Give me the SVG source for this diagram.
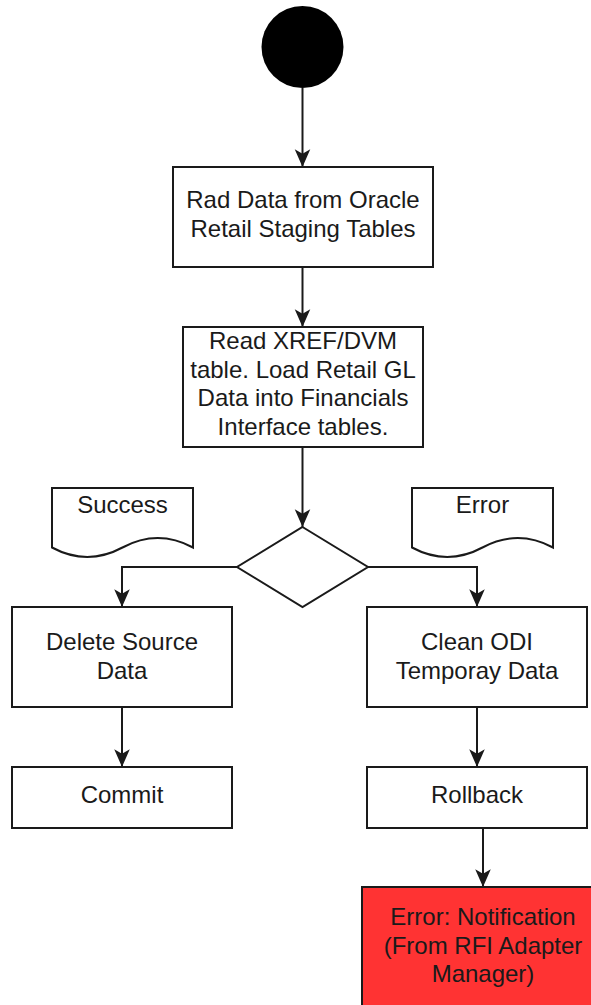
<svg xmlns="http://www.w3.org/2000/svg" width="591" height="1005" viewBox="0 0 591 1005">
<defs>
<style>
.box{fill:#ffffff;stroke:#1a1a1a;stroke-width:2}
.err{fill:#ff3333;stroke:#1a1a1a;stroke-width:2}
.lbl{font-family:"Liberation Sans",Arial,sans-serif;font-size:24px;fill:#1a1a1a;text-anchor:middle}
.edge{fill:none;stroke:#1a1a1a;stroke-width:2;marker-end:url(#arr)}
</style>
<marker id="arr" markerUnits="userSpaceOnUse" markerWidth="20" markerHeight="20" viewBox="-17 -8 18 16" refX="0" refY="0" orient="auto">
<path d="M0,0 L-16,-7 L-12,0 L-16,7 Z" fill="#1a1a1a"/>
</marker>
</defs>
<rect width="591" height="1005" fill="#ffffff"/>
<g id="connectors">
<path class="edge" d="M302.5,88 V167"/>
<path class="edge" d="M302.5,267 V327"/>
<path class="edge" d="M302.5,447 V527"/>
<path class="edge" d="M237,567 H122 V607"/>
<path class="edge" d="M368,567 H477 V607"/>
<path class="edge" d="M122,707 V767"/>
<path class="edge" d="M477,707 V767"/>
<path class="edge" d="M483,828 V887"/>
</g>
<g id="start">
<circle cx="302.5" cy="47" r="41" fill="#000000"/>
</g>
<g id="read-staging">
<rect class="box" x="173" y="167" width="260" height="100"/>
<text class="lbl" x="303" y="208">Rad Data from Oracle</text>
<text class="lbl" x="303" y="237">Retail Staging Tables</text>
</g>
<g id="read-xref">
<rect class="box" x="183" y="327" width="240" height="120"/>
<text class="lbl" x="303" y="349">Read XREF/DVM</text>
<text class="lbl" x="303" y="377.5">table. Load Retail GL</text>
<text class="lbl" x="303" y="406">Data into Financials</text>
<text class="lbl" x="303" y="434.5">Interface tables.</text>
</g>
<g id="success-doc">
<path class="box" d="M52,488 H193 V547.5 Q157.75,528.6 122.5,547.5 Q87.25,566.4 52,547.5 Z"/>
<text class="lbl" x="122.5" y="513">Success</text>
</g>
<g id="error-doc">
<path class="box" d="M412,488 H553 V547.5 Q517.75,528.6 482.5,547.5 Q447.25,566.4 412,547.5 Z"/>
<text class="lbl" x="482.5" y="513">Error</text>
</g>
<g id="decision">
<path class="box" d="M302.5,527 L368,567 L302.5,607 L237,567 Z"/>
</g>
<g id="delete-source">
<rect class="box" x="12" y="607" width="220" height="100"/>
<text class="lbl" x="122" y="650">Delete Source</text>
<text class="lbl" x="122" y="678.5">Data</text>
</g>
<g id="clean-odi">
<rect class="box" x="367" y="607" width="220" height="100"/>
<text class="lbl" x="477" y="650">Clean ODI</text>
<text class="lbl" x="477" y="678.5">Temporay Data</text>
</g>
<g id="commit">
<rect class="box" x="12" y="767" width="220" height="61"/>
<text class="lbl" x="122" y="803">Commit</text>
</g>
<g id="rollback">
<rect class="box" x="367" y="767" width="220" height="61"/>
<text class="lbl" x="477" y="803">Rollback</text>
</g>
<g id="error-notification">
<rect class="err" x="362" y="887" width="242" height="120"/>
<text class="lbl" x="483" y="925">Error: Notification</text>
<text class="lbl" x="483" y="953.5">(From RFI Adapter</text>
<text class="lbl" x="483" y="982">Manager)</text>
</g>
</svg>
